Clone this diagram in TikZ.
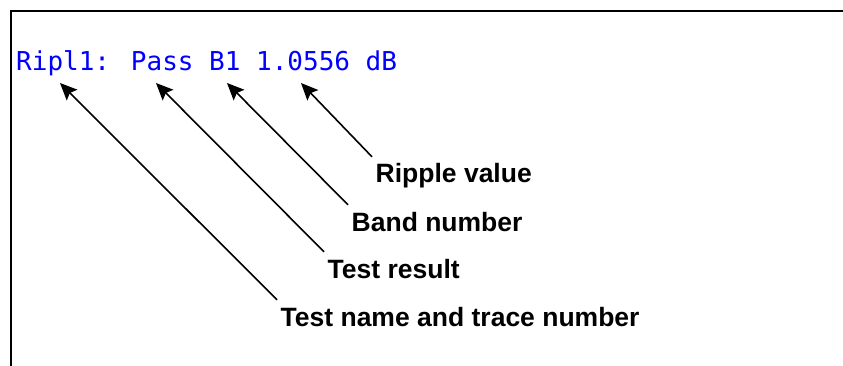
\documentclass[tikz,border=0pt]{standalone}
\usepackage{fontspec}
\setmainfont{Liberation Sans}
\newfontfamily\monof{DejaVu Sans Mono}
\usetikzlibrary{arrows.meta}
\definecolor{codeblue}{RGB}{0,0,255}
\tikzset{
  frame/.style={line width=2pt, black},
  code/.style={anchor=base west, inner sep=0pt, text=codeblue, font=\monof\fontsize{26}{30}\selectfont},
  lbl/.style={anchor=base west, inner xsep=3.5pt, inner ysep=0pt, text height=26pt, font=\bfseries\fontsize{26.5}{30}\selectfont},
  arr/.style={line width=1.6pt, -{Stealth[length=17pt, width=15pt, inset=3pt]}}
}
\begin{document}
\begin{tikzpicture}[x=1pt, y=-1pt]
\useasboundingbox (0,0) rectangle (843,366);
\draw[frame] (11,367) -- (11,11) -- (844,11);
\node[code] (txt) at (16,71) {Ripl1: Pass B1 1.0556 dB};
\coordinate (t1) at (60,83);
\coordinate (t2) at (156,83);
\coordinate (t3) at (227,83);
\coordinate (t4) at (301,83);
\node[lbl] (rv) at (372,183) {Ripple value};
\node[lbl] (bn) at (348,231) {Band number};
\node[lbl] (tr) at (324,278) {Test result};
\node[lbl] (tn) at (277,326) {Test name and trace number};
\draw[arr] (rv.north west) -- (t4);
\draw[arr] (bn.north west) -- (t3);
\draw[arr] (tr.north west) -- (t2);
\draw[arr] (tn.north west) -- (t1);
\end{tikzpicture}
\end{document}
